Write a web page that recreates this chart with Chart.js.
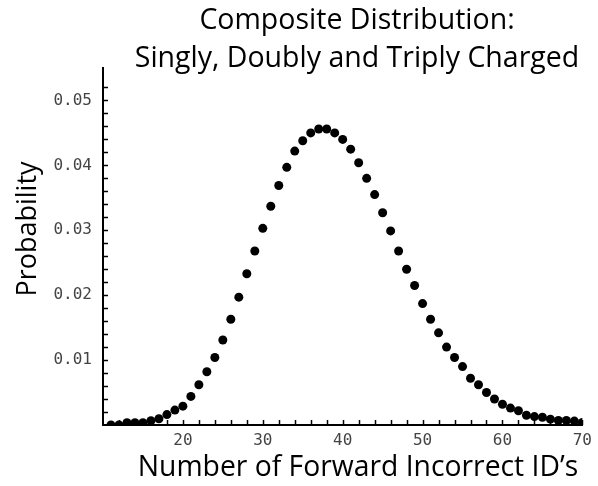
<!DOCTYPE html>
<html>
<head>
<meta charset="utf-8">
<script src="https://cdn.jsdelivr.net/npm/chart.js@4.4.1/dist/chart.umd.min.js"></script>
<style>
  html, body { margin: 0; padding: 0; background: #fff; }
  #wrap { width: 598px; height: 486px; position: relative; }
</style>
</head>
<body>
<div id="wrap"><canvas id="c" width="598" height="486"></canvas></div>
<script>
// ---- data ----
const xValues = [11,12,13,14,15,16,17,18,19,20,21,22,23,24,25,26,27,28,29,30,
                 31,32,33,34,35,36,37,38,39,40,41,42,43,44,45,46,47,48,49,50,
                 51,52,53,54,55,56,57,58,59,60,61,62,63,64,65,66,67,68,69,70];
const probabilities = [0.0000,0.0000,0.00035,0.00035,0.00035,0.00066,0.00097,0.0016,0.0023,0.0029,
                       0.0044,0.0062,0.0082,0.0104,0.0131,0.0163,0.0197,0.0233,0.0268,0.0303,
                       0.0337,0.0369,0.0397,0.0422,0.0438,0.0450,0.0456,0.0456,0.0450,0.0440,
                       0.0425,0.0404,0.0380,0.0355,0.0327,0.0299,0.0268,0.0240,0.0215,0.0187,
                       0.0163,0.0142,0.0120,0.0104,0.0090,0.0072,0.0062,0.0050,0.0040,0.0032,
                       0.0026,0.0022,0.0015,0.0013,0.0012,0.0009,0.0007,0.0007,0.0006,0.0004];
const xTickLabels = [20, 30, 40, 50, 60, 70];
const yTickLabels = [0.01, 0.02, 0.03, 0.04, 0.05];
const titleLines = ["Composite Distribution:", "Singly, Doubly and Triply Charged"];
const xTitle = "Number of Forward Incorrect ID\u2019s";
const yTitle = "Probability";

const TITLE_FONT = '"Open Sans", "Noto Sans", sans-serif';
const TICK_FONT = '"DejaVu Sans Mono", monospace';

const points = xValues.map((x, i) => ({ x: x, y: probabilities[i] }));

const textPlugin = {
  id: 'texts',
  afterDraw(chart) {
    const ctx = chart.ctx;
    ctx.save();
    ctx.fillStyle = '#000';
    ctx.textAlign = 'center';
    ctx.textBaseline = 'alphabetic';
    ctx.font = '28.5px ' + TITLE_FONT;
    ctx.fillText(titleLines[0], 357, 29);
    ctx.fillText(titleLines[1], 357, 67);
    ctx.font = '28.3px ' + TITLE_FONT;
    ctx.fillText(xTitle, 358, 476);
    ctx.font = '27px ' + TITLE_FONT;
    ctx.translate(36, 229);
    ctx.rotate(-Math.PI / 2);
    ctx.fillText(yTitle, 0, 0);
    ctx.restore();

    // inward tick marks
    const xs = chart.scales.x, ys = chart.scales.y;
    const area = chart.chartArea;
    ctx.save();
    ctx.strokeStyle = '#000';
    ctx.lineWidth = 1.5;
    ctx.beginPath();
    xs.ticks.forEach(t => {
      if (Math.round(t.value) % 2 !== 0) return;
      const px = Math.round(xs.getPixelForValue(t.value)) + 0.5;
      if (px < area.left + 2) return;
      ctx.moveTo(px, area.bottom);
      ctx.lineTo(px, area.bottom - 5);
    });
    ys.ticks.forEach(t => {
      const k = Math.round(t.value * 1000);
      if (Math.abs(t.value * 1000 - k) > 1e-6 || k % 2 !== 0 || k === 0) return;
      const py = Math.round(ys.getPixelForValue(t.value)) + 0.5;
      ctx.moveTo(area.left, py);
      ctx.lineTo(area.left + 5, py);
    });
    ctx.stroke();
    ctx.restore();
  }
};

new Chart(document.getElementById('c'), {
  type: 'scatter',
  data: {
    datasets: [{
      data: points,
      backgroundColor: '#000',
      borderWidth: 0,
      pointRadius: 4.5,
      pointHoverRadius: 4.5
    }]
  },
  options: {
    responsive: false,
    animation: false,
    events: [],
    layout: { padding: { top: 68, right: 15, left: 0, bottom: 0 } },
    plugins: { legend: { display: false }, title: { display: false }, tooltip: { enabled: false } },
    scales: {
      x: {
        type: 'linear',
        min: 10, max: 70,
        afterFit(s) { s.height = 61; },
        grid: { display: false, drawTicks: false },
        border: { display: true, color: '#000', width: 2 },
        ticks: {
          stepSize: 2,
          autoSkip: false,
          maxRotation: 0,
          padding: 6,
          color: '#444',
          font: { family: TICK_FONT, size: 16 },
          callback: v => xTickLabels.includes(Math.round(v)) && Math.abs(v - Math.round(v)) < 1e-9 ? String(v) : ''
        }
      },
      y: {
        type: 'linear',
        min: 0, max: 0.055,
        afterFit(s) { s.width = 103; },
        grid: { display: false, drawTicks: false },
        border: { display: true, color: '#000', width: 2 },
        ticks: {
          stepSize: 0.002,
          autoSkip: false,
          padding: 11,
          color: '#444',
          font: { family: TICK_FONT, size: 16 },
          callback: v => {
            const m = yTickLabels.find(t => Math.abs(t - v) < 1e-9);
            return m !== undefined ? m.toFixed(2) : '';
          }
        }
      }
    }
  },
  plugins: [textPlugin]
});
</script>
</body>
</html>
